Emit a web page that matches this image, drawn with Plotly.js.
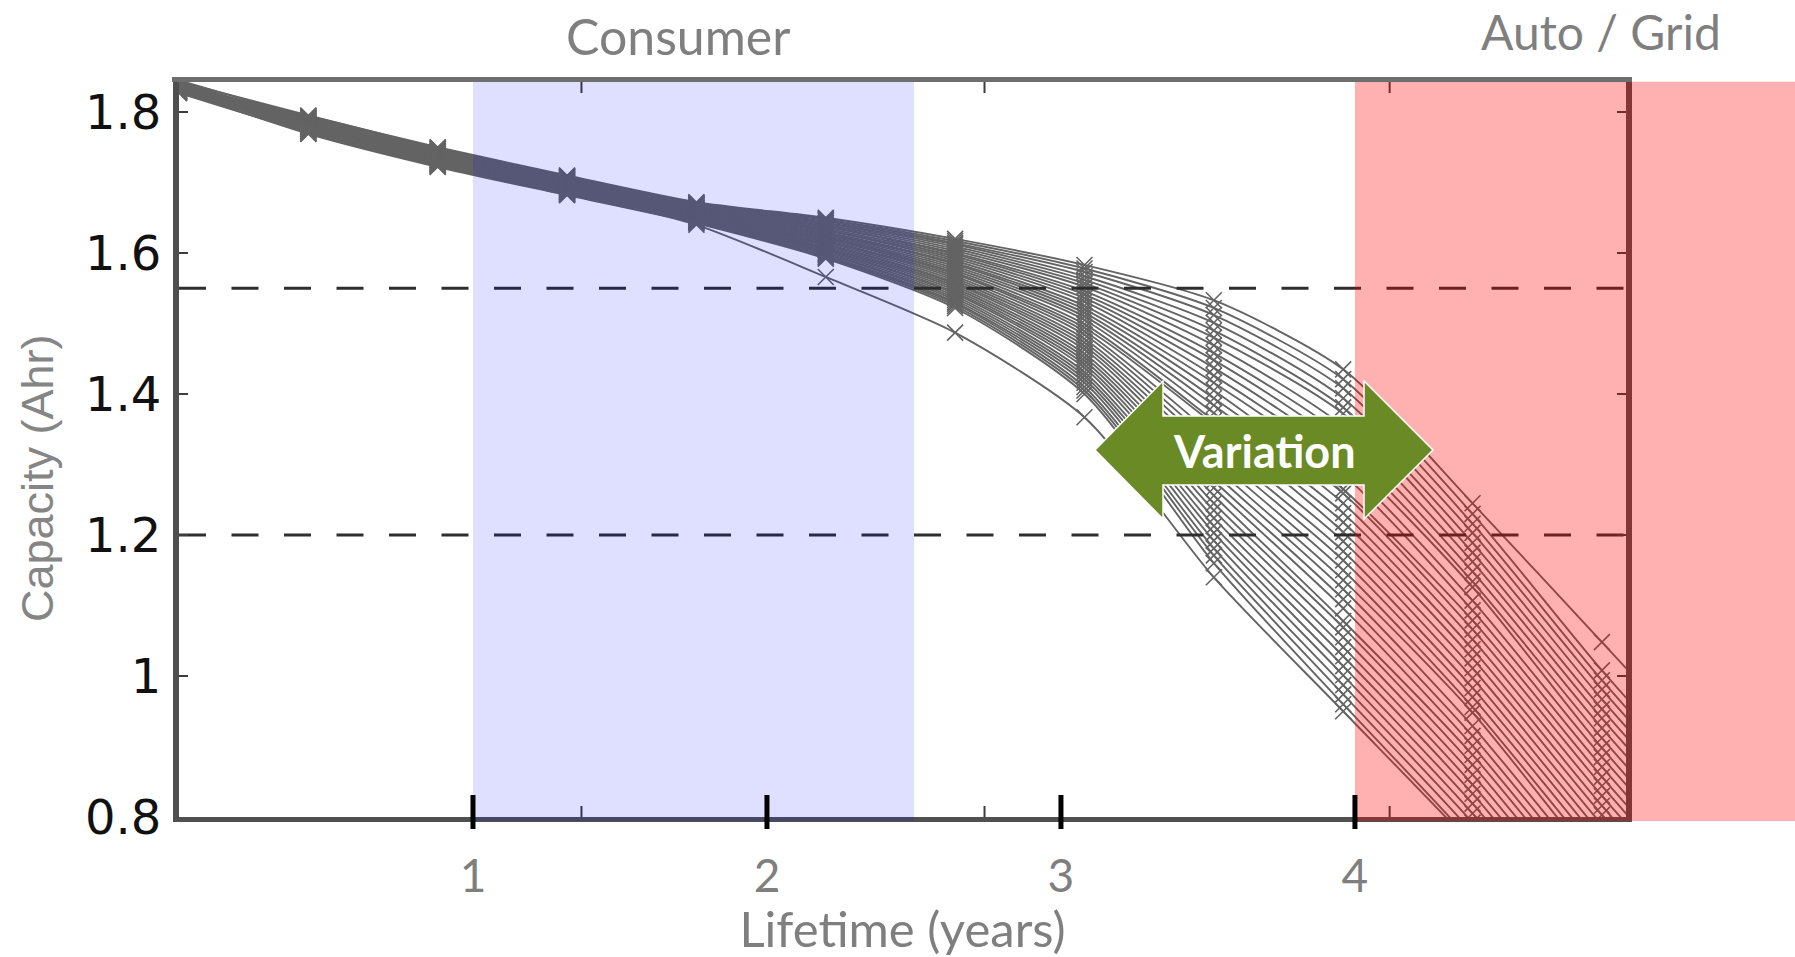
<!DOCTYPE html>
<html>
<head>
<meta charset="utf-8">
<script src="https://cdn.plot.ly/plotly-3.0.1.min.js"></script>
<style>
  html, body { margin: 0; padding: 0; background: #ffffff; }
  #chart { width: 1795px; height: 957px; }
</style>
</head>
<body>
<div id="chart"></div>
<script>
// ---------------- data ----------------
const sampleYears = [0, 0.44, 0.88, 1.32, 1.76, 2.20, 2.64, 3.08, 3.52, 3.96, 4.40, 4.84, 5.28];

const cell01 = [1.843,1.795,1.750,1.710,1.672,1.650,1.620,1.583,1.533,1.435,1.245,1.048,0.850];
const cell02 = [1.829,1.794,1.749,1.709,1.671,1.648,1.617,1.578,1.522,1.421,1.230,1.008,0.805];
const cell03 = [1.838,1.794,1.748,1.708,1.670,1.647,1.614,1.573,1.512,1.408,1.216,0.994,0.790];
const cell04 = [1.832,1.793,1.748,1.708,1.669,1.645,1.612,1.567,1.501,1.394,1.203,0.981,0.776];
const cell05 = [1.845,1.792,1.747,1.707,1.669,1.643,1.609,1.562,1.490,1.381,1.189,0.967,0.762];
const cell06 = [1.830,1.791,1.746,1.706,1.668,1.642,1.606,1.557,1.480,1.372,1.175,0.953,0.748];
const cell07 = [1.840,1.791,1.745,1.705,1.667,1.640,1.603,1.552,1.469,1.354,1.162,0.940,0.735];
const cell08 = [1.834,1.790,1.744,1.704,1.666,1.638,1.600,1.546,1.458,1.340,1.148,0.926,0.721];
const cell09 = [1.827,1.789,1.744,1.704,1.665,1.637,1.598,1.541,1.448,1.326,1.134,0.912,0.707];
const cell10 = [1.842,1.788,1.743,1.703,1.664,1.635,1.595,1.536,1.437,1.313,1.126,0.898,0.693];
const cell11 = [1.836,1.788,1.742,1.702,1.664,1.633,1.592,1.531,1.426,1.299,1.107,0.885,0.680];
const cell12 = [1.829,1.787,1.741,1.701,1.663,1.632,1.589,1.525,1.416,1.286,1.093,0.871,0.666];
const cell13 = [1.844,1.786,1.740,1.700,1.662,1.630,1.586,1.520,1.405,1.265,1.079,0.857,0.652];
const cell14 = [1.833,1.785,1.740,1.700,1.661,1.628,1.584,1.515,1.394,1.259,1.066,0.844,0.639];
const cell15 = [1.839,1.785,1.739,1.699,1.660,1.627,1.581,1.510,1.384,1.245,1.052,0.830,0.625];
const cell16 = [1.828,1.784,1.738,1.698,1.659,1.625,1.578,1.505,1.373,1.231,1.038,0.816,0.611];
const cell17 = [1.841,1.783,1.737,1.697,1.658,1.623,1.575,1.499,1.362,1.218,1.025,0.803,0.598];
const cell18 = [1.835,1.782,1.736,1.696,1.658,1.622,1.572,1.494,1.357,1.204,1.011,0.789,0.584];
const cell19 = [1.830,1.782,1.736,1.696,1.657,1.620,1.570,1.489,1.341,1.191,0.997,0.775,0.570];
const cell20 = [1.843,1.781,1.735,1.695,1.656,1.618,1.567,1.484,1.330,1.177,0.983,0.762,0.557];
const cell21 = [1.837,1.780,1.734,1.694,1.655,1.617,1.564,1.478,1.320,1.164,0.970,0.748,0.543];
const cell22 = [1.831,1.779,1.733,1.693,1.654,1.615,1.561,1.473,1.309,1.150,0.956,0.734,0.529];
const cell23 = [1.845,1.779,1.732,1.692,1.653,1.613,1.558,1.468,1.298,1.136,0.948,0.721,0.516];
const cell24 = [1.834,1.778,1.732,1.692,1.652,1.612,1.556,1.463,1.288,1.123,0.929,0.707,0.502];
const cell25 = [1.838,1.777,1.731,1.691,1.652,1.610,1.553,1.457,1.277,1.109,0.915,0.693,0.488];
const cell26 = [1.828,1.776,1.730,1.690,1.651,1.608,1.550,1.452,1.267,1.096,0.901,0.679,0.474];
const cell27 = [1.842,1.776,1.729,1.689,1.650,1.607,1.547,1.447,1.256,1.078,0.888,0.666,0.461];
const cell28 = [1.836,1.775,1.728,1.688,1.649,1.605,1.544,1.442,1.245,1.069,0.874,0.652,0.447];
const cell29 = [1.830,1.774,1.728,1.688,1.648,1.604,1.542,1.437,1.235,1.055,0.860,0.638,0.433];
const cell30 = [1.844,1.773,1.727,1.687,1.647,1.602,1.539,1.431,1.224,1.041,0.846,0.625,0.420];
const cell31 = [1.833,1.773,1.726,1.686,1.646,1.600,1.536,1.426,1.213,1.028,0.833,0.611,0.406];
const cell32 = [1.839,1.772,1.725,1.685,1.646,1.599,1.533,1.421,1.203,1.014,0.819,0.597,0.392];
const cell33 = [1.827,1.771,1.724,1.684,1.645,1.597,1.530,1.416,1.192,1.001,0.805,0.583,0.378];
const cell34 = [1.841,1.770,1.724,1.684,1.644,1.595,1.528,1.410,1.181,0.987,0.792,0.570,0.365];
const cell35 = [1.835,1.770,1.723,1.683,1.643,1.594,1.525,1.405,1.171,0.974,0.778,0.556,0.351];
const cell36 = [1.830,1.769,1.722,1.682,1.642,1.592,1.522,1.400,1.160,0.960,0.764,0.542,0.337];
const cell37 = [1.832,1.776,1.728,1.686,1.640,1.566,1.487,1.367,1.140,0.950,0.760,0.560,0.360];

const cells = [cell01,cell02,cell03,cell04,cell05,cell06,cell07,cell08,cell09,cell10,
               cell11,cell12,cell13,cell14,cell15,cell16,cell17,cell18,cell19,cell20,
               cell21,cell22,cell23,cell24,cell25,cell26,cell27,cell28,cell29,cell30,
               cell31,cell32,cell33,cell34,cell35,cell36,cell37];

const thresholds = [1.55, 1.2];               // dashed reference capacities
const xTickVals = [1, 2, 3, 4];
const xTickText = ['1', '2', '3', '4'];
const yTickVals = [0.8, 1, 1.2, 1.4, 1.6, 1.8];
const yTickText = ['0.8', '1', '1.2', '1.4', '1.6', '1.8'];
const origTicks = [1.369, 2.740, 4.118];       // original (small) axis ticks
const consumerBand = [1, 2.5];
const autoGridStart = 4;

// ---------------- layout geometry ----------------
const W = 1795, H = 957;
const L = 179, R = 1626, T = 82, B = 817;
const xRange = [0, 4.922];
const yRange = [0.8, 0.8 + (B - T) / 705];
const px = X => (X - L) / (R - L);      // pixel -> paper x
const py = Y => (B - Y) / (B - T);      // pixel -> paper y
const dx = v => (v - xRange[0]) / (xRange[1] - xRange[0]); // data x -> paper x

const lineGray = 'rgb(100,100,100)';
const traces = cells.map(c => ({
  type: 'scatter', mode: 'lines+markers',
  x: sampleYears, y: c,
  line: { color: lineGray, width: 1.9, shape: 'spline', smoothing: 0.7 },
  marker: { symbol: 'x-thin', size: 16, color: lineGray, line: { color: lineGray, width: 1.6 } },
  hoverinfo: 'skip', showlegend: false
}));
thresholds.forEach(t => traces.push({
  type: 'scatter', mode: 'lines',
  x: [xRange[0], xRange[1]], y: [t, t],
  line: { color: '#2e2e2e', width: 3, dash: '27px,25.5px' },
  hoverinfo: 'skip', showlegend: false
}));

const shapes = [];
// original small ticks (top and bottom, pointing inwards)
origTicks.forEach(v => {
  shapes.push({ type: 'line', layer: 'above', xref: 'x', yref: 'paper', x0: v, x1: v,
    y0: py(B), y1: py(B - 11), line: { color: '#3c3c3c', width: 2 } });
  shapes.push({ type: 'line', layer: 'above', xref: 'x', yref: 'paper', x0: v, x1: v,
    y0: py(T), y1: py(T + 11), line: { color: '#3c3c3c', width: 2 } });
});
// consumer band (blue) and auto/grid band (red) overlays
shapes.push({ type: 'rect', layer: 'above', xref: 'x', yref: 'paper',
  x0: consumerBand[0], x1: consumerBand[1], y0: py(821), y1: py(81.7),
  fillcolor: 'rgba(0,0,255,0.125)', line: { width: 0 } });
shapes.push({ type: 'rect', layer: 'above', xref: 'paper', yref: 'paper',
  x0: dx(autoGridStart), x1: px(W + 5), y0: py(821), y1: py(81.7),
  fillcolor: 'rgba(255,0,0,0.31)', line: { width: 0 } });
// top frame line
shapes.push({ type: 'line', layer: 'above', xref: 'paper', yref: 'paper',
  x0: px(172), x1: px(1632), y0: py(79.5), y1: py(79.5),
  line: { color: 'rgb(110,110,110)', width: 5 } });
// bold year tick marks
xTickVals.forEach(v => shapes.push({ type: 'line', layer: 'above', xref: 'x', yref: 'paper',
  x0: v, x1: v, y0: py(829), y1: py(795), line: { color: '#000000', width: 5 } }));
// Variation double arrow
const arrowPts = [[1095,450],[1163,381],[1163,416],[1364,416],[1364,381],[1433,450],
                  [1364,519],[1364,485],[1163,485],[1163,519]];
const arrowPath = 'M ' + arrowPts.map(p => px(p[0]).toFixed(5) + ',' + py(p[1]).toFixed(5)).join(' L ') + ' Z';
shapes.push({ type: 'path', layer: 'above', xref: 'paper', yref: 'paper', path: arrowPath,
  fillcolor: 'rgb(106,138,38)', line: { color: '#ffffff', width: 1.5 } });

const grayText = 'rgb(127,127,127)';
const annotations = [
  { text: 'Consumer', xref: 'paper', yref: 'paper', x: px(678), y: py(36),
    xanchor: 'center', yanchor: 'middle', showarrow: false,
    font: { family: 'Lato, sans-serif', size: 50, color: grayText } },
  { text: 'Auto / Grid', xref: 'paper', yref: 'paper', x: px(1601), y: py(32),
    xanchor: 'center', yanchor: 'middle', showarrow: false,
    font: { family: 'Lato, sans-serif', size: 48, color: grayText } },
  { text: '<b>Variation</b>', xref: 'paper', yref: 'paper', x: px(1264), y: py(451),
    xanchor: 'center', yanchor: 'middle', showarrow: false,
    font: { family: 'Lato, sans-serif', size: 45, color: '#ffffff' } },
  { text: 'Capacity (Ahr)', xref: 'paper', yref: 'paper', x: px(37), y: py(478),
    xanchor: 'center', yanchor: 'middle', showarrow: false, textangle: -90,
    font: { family: 'Liberation Sans, Arial, sans-serif', size: 45, color: 'rgb(133,133,133)' } }
];

const layout = {
  width: W, height: H,
  margin: { l: L, r: W - R, t: T, b: H - B, pad: 0 },
  paper_bgcolor: '#ffffff', plot_bgcolor: '#ffffff',
  showlegend: false,
  xaxis: {
    range: xRange, showgrid: false, zeroline: false,
    showline: true, linecolor: 'rgb(80,80,80)', linewidth: 5, mirror: false,
    ticks: '', tickmode: 'array', tickvals: xTickVals, ticktext: xTickText,
    tickfont: { family: 'Lato, sans-serif', size: 46, color: grayText },
    ticklabelstandoff: 15,
    title: { text: 'Lifetime (years)', standoff: 12,
      font: { family: 'Lato, sans-serif', size: 49, color: grayText } }
  },
  yaxis: {
    range: yRange, showgrid: false, zeroline: false,
    showline: true, linecolor: 'rgb(78,78,78)', linewidth: 6, mirror: 'ticks',
    ticks: 'inside', ticklen: 9, tickwidth: 2, tickcolor: 'rgb(60,60,60)',
    tickmode: 'array', tickvals: yTickVals, ticktext: yTickText,
    tickfont: { family: 'DejaVu Sans, sans-serif', size: 48, color: '#111111' },
    ticklabelstandoff: 2
  },
  shapes: shapes,
  annotations: annotations
};

Plotly.newPlot('chart', traces, layout, { displayModeBar: false, staticPlot: true });
</script>
</body>
</html>
